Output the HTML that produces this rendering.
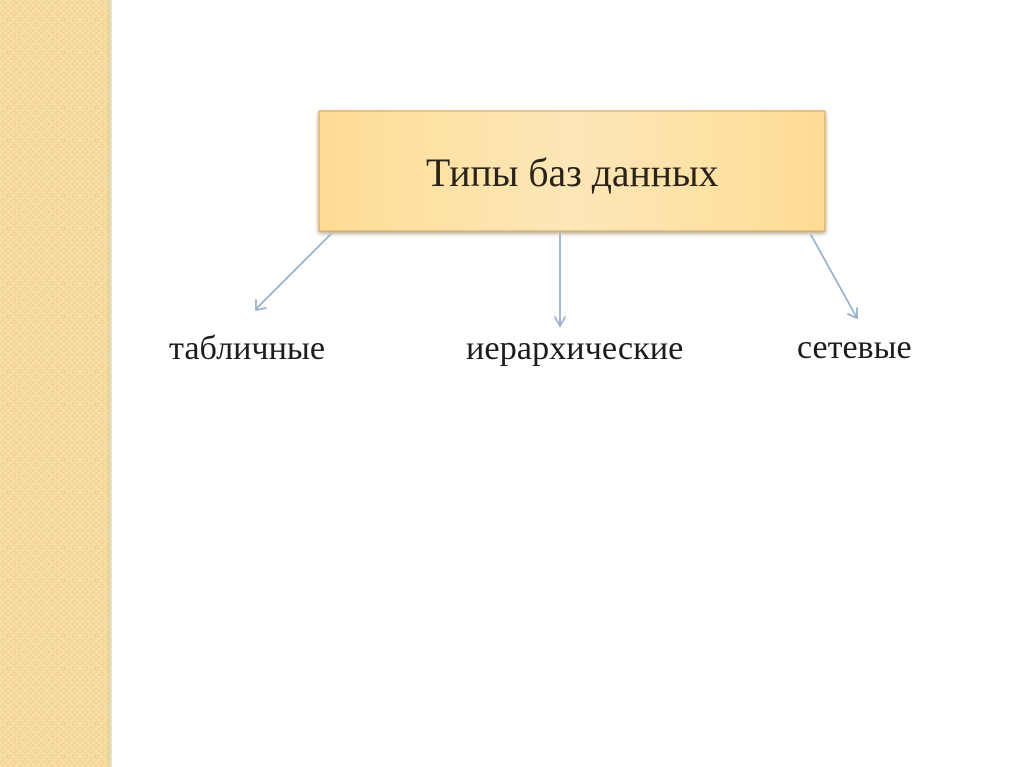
<!DOCTYPE html>
<html>
<head>
<meta charset="utf-8">
<style>
html,body{margin:0;padding:0;background:#fff;}
#p{position:relative;width:1024px;height:767px;overflow:hidden;background:#fff;}
svg{position:absolute;left:0;top:0;}
.t{position:absolute;font-family:"Liberation Serif","DejaVu Serif",serif;color:#1c1c1c;white-space:nowrap;line-height:1;}
</style>
</head>
<body>
<div id="p">
<svg width="1024" height="767" viewBox="0 0 1024 767">
<defs>
<pattern id="d" width="11" height="11" patternUnits="userSpaceOnUse">
<rect width="11" height="11" fill="#fae0a8"/>
<circle cx="3" cy="3" r="2" fill="none" stroke="#edcb88" stroke-width="1"/>
<circle cx="8.5" cy="8.5" r="2" fill="none" stroke="#edcb88" stroke-width="1"/>
<circle cx="8.5" cy="3" r="2" fill="none" stroke="#f2d596" stroke-width="1"/>
<circle cx="3" cy="8.5" r="2" fill="none" stroke="#f2d596" stroke-width="1"/>
</pattern>
<linearGradient id="g" x1="0" x2="1" y1="0" y2="0">
<stop offset="0" stop-color="#fedc94"/>
<stop offset="0.5" stop-color="#fde7b8"/>
<stop offset="1" stop-color="#fedc94"/>
</linearGradient>
<linearGradient id="e" x1="0" x2="1" y1="0" y2="0">
<stop offset="0" stop-color="#e0cc98"/>
<stop offset="1" stop-color="#efe6cc"/>
</linearGradient>
<filter id="s" x="-5%" y="-10%" width="110%" height="125%">
<feDropShadow dx="0" dy="2" stdDeviation="2" flood-color="#7a5a28" flood-opacity="0.55"/>
</filter>
<filter id="b" x="-20%" y="-20%" width="140%" height="140%">
<feGaussianBlur stdDeviation="0.3"/>
</filter>
</defs>
<rect x="0" y="0" width="108" height="767" fill="url(#d)"/>
<rect x="108" y="0" width="4" height="767" fill="url(#e)"/>
<rect x="319" y="111" width="506" height="120" fill="url(#g)" stroke="#d2ae68" stroke-width="1.2" filter="url(#s)"/>
<g fill="none" stroke="#9ab1ca" stroke-width="1.8" stroke-linecap="round" stroke-linejoin="round" filter="url(#b)">
<path d="M331 234L256 309"/>
<path d="M256 300L256 310L266 308"/>
<path d="M560 234L560 326"/>
<path d="M555 317L560 326L565 317"/>
<path d="M811 235L857 318"/>
<path d="M848 314L857 318L857 308"/>
</g>
</svg>
<div class="t" style="left:426px;top:154px;font-size:39.7px;color:#2a2418;">Типы баз данных</div>
<div class="t" style="left:169px;top:332px;font-size:34.2px;">табличные</div>
<div class="t" style="left:466px;top:331px;font-size:34.3px;">иерархические</div>
<div class="t" style="left:797px;top:331px;font-size:34px;">сетевые</div>
</div>
</body>
</html>
